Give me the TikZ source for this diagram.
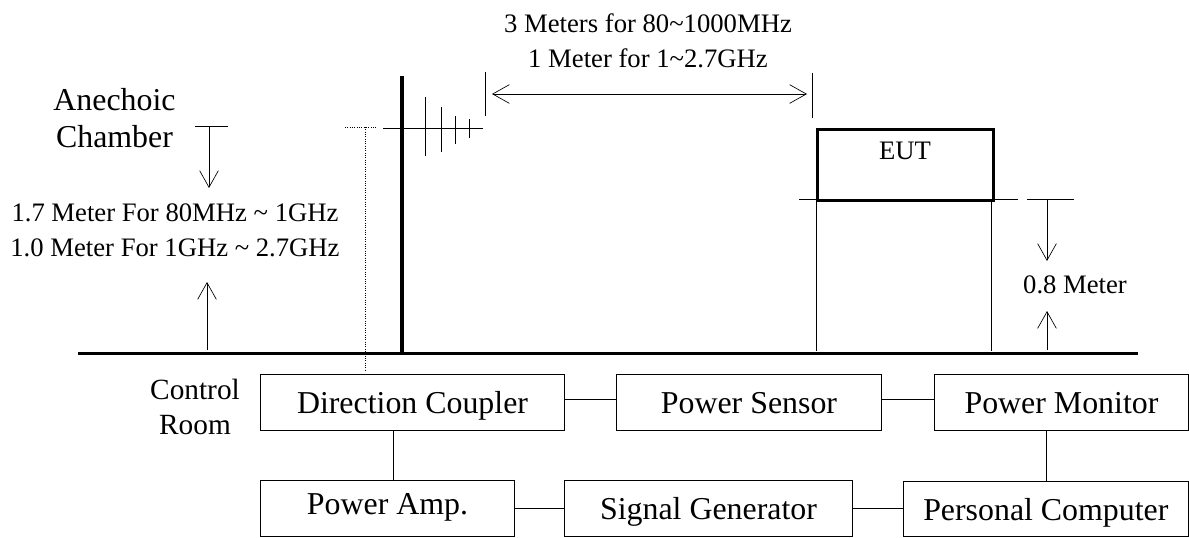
\documentclass[tikz,border=0pt]{standalone}
\usepackage{fontspec}
\setmainfont{Liberation Serif}
\usetikzlibrary{arrows.meta, positioning}
\tikzset{
    block/.style={draw, line width=0.75pt, anchor=north west, inner sep=0pt, align=center, text height=18pt, text depth=2.2pt, font=\fontsize{23.9}{28}\selectfont},
    label/.style={align=center, inner sep=0pt, font=\fontsize{20}{26}\selectfont},
    wire/.style={line width=0.75pt},
    barb/.tip={Straight Barb[length=12.5pt, width=14pt, line width=0.5pt]},
    dim/.style={line width=0.5pt, -barb},
}
\begin{document}
\begin{tikzpicture}[x=0.75pt, y=-0.75pt]
        \useasboundingbox (0,0) rectangle (1189,537);
        % control room
        \node[block, minimum width=228pt, minimum height=42pt] (coupler) at (260,374) {Direction Coupler};
        \node[block, minimum width=198.75pt, minimum height=42pt] (sensor) at (616,374) {Power Sensor};
        \node[block, minimum width=190.5pt, minimum height=42pt] (monitor) at (934,374) {Power Monitor};
        \node[block, minimum width=190.5pt, minimum height=42pt, text height=15pt, text depth=6pt] (amp) at (260,480) {Power Amp.};
        \node[block, minimum width=216pt, minimum height=42pt, text height=19pt, text depth=2pt] (generator) at (564,480) {Signal Generator};
        \node[block, minimum width=213.5pt, minimum height=41pt, text height=19pt, text depth=2pt] (computer) at (903,481) {Personal Computer};
        \draw[wire] ([yshift=2.25pt]coupler.east) -- ([yshift=2.25pt]sensor.west);
        \draw[wire] ([yshift=2.25pt]sensor.east) -- ([yshift=2.25pt]monitor.west);
        \draw[wire] (amp.east) -- (amp.east -| generator.west);
        \draw[wire] (generator.east) -- (generator.east -| computer.west);
        \coordinate (coupdown) at (393,430);
        \coordinate (ampup) at (393,480);
        \coordinate (mondown) at (1046,430);
        \coordinate (compup) at (1046,481);
        \draw[wire] (coupdown) -- (ampup);
        \draw[wire] (mondown) -- (compup);
        \node[label, font=\fontsize{22}{26.3}\selectfont] (room) at (195,407) {Control\\Room};
        % chamber
        \draw[line width=2.9pt] (78,353.5) -- (1138,353.5);
        \draw[line width=2.6pt] (402,76) -- (402,353);
        \node[label, font=\fontsize{23.9}{28}\selectfont] (chamber) at (114.5,118) {Anechoic\\Chamber};
        \node[label] (heightA) at (175,230) {1.7 Meter For 80MHz \textasciitilde{} 1GHz\\1.0 Meter For 1GHz \textasciitilde{} 2.7GHz};
        \node[label] (heightB) at (1075,285) {0.8 Meter};
        \node[label] (range) at (648,41) {3 Meters for 80\textasciitilde1000MHz\\1 Meter for 1\textasciitilde2.7GHz};
        \node[draw, line width=2.25pt, anchor=north west, minimum width=132pt, minimum height=53pt, inner sep=0pt] (eut) at (816,128) {};
        \node[label] (eutlabel) at (905,151) {EUT};
        % eut table
        \coordinate (tableL) at (799,199);
        \coordinate (tableR) at (1018,199);
        \draw[wire] (tableL) -- (tableR);
        \coordinate (legLa) at (816,199);
        \coordinate (legLb) at (816,351);
        \coordinate (legRa) at (991,199);
        \coordinate (legRb) at (991,351);
        \draw[wire] (legLa) -- (legLb);
        \draw[wire] (legRa) -- (legRb);
        % 0.8 meter
        \coordinate (tickL) at (1027,199);
        \coordinate (tickR) at (1074,199);
        \coordinate (downA) at (1047,199);
        \coordinate (downB) at (1047,261);
        \coordinate (upA) at (1047,350);
        \coordinate (upB) at (1047,311);
        \draw[wire] (tickL) -- (tickR);
        \draw[dim] (downA) -- (downB);
        \draw[dim] (upA) -- (upB);
        % 1.7 meter
        \coordinate (tickC) at (195,126);
        \coordinate (tickD) at (228,126);
        \coordinate (chamA) at (209,126);
        \coordinate (chamB) at (209,188);
        \coordinate (chamC) at (207,350);
        \coordinate (chamD) at (207,282);
        \draw[wire] (tickC) -- (tickD);
        \draw[dim] (chamA) -- (chamB);
        \draw[dim] (chamC) -- (chamD);
        % antenna
        \coordinate (boomA) at (383,128);
        \coordinate (boomB) at (483,128);
        \draw[wire] (boomA) -- (boomB);
        \foreach \x/\t/\b in {425/97/156, 441/107/152, 455/116/144, 469/119/138}
            \draw[wire] (\x,\t) -- (\x,\b);
        \coordinate (dotA) at (345,127);
        \coordinate (dotB) at (376,127);
        \coordinate (dotC) at (365,127);
        \coordinate (dotD) at (365,370);
        \draw[wire, densely dotted] (dotA) -- (dotB);
        \draw[wire, densely dotted] (dotC) -- (dotD);
        % distance
        \coordinate (tickE) at (485,72);
        \coordinate (tickF) at (485,116);
        \coordinate (tickG) at (812,73);
        \coordinate (tickH) at (812,118);
        \draw[wire] (tickE) -- (tickF);
        \draw[wire] (tickG) -- (tickH);
        \coordinate (spanA) at (492,94);
        \coordinate (spanB) at (807,94);
        \draw[dim, barb-barb] (spanA) -- (spanB);
\end{tikzpicture}
\end{document}
